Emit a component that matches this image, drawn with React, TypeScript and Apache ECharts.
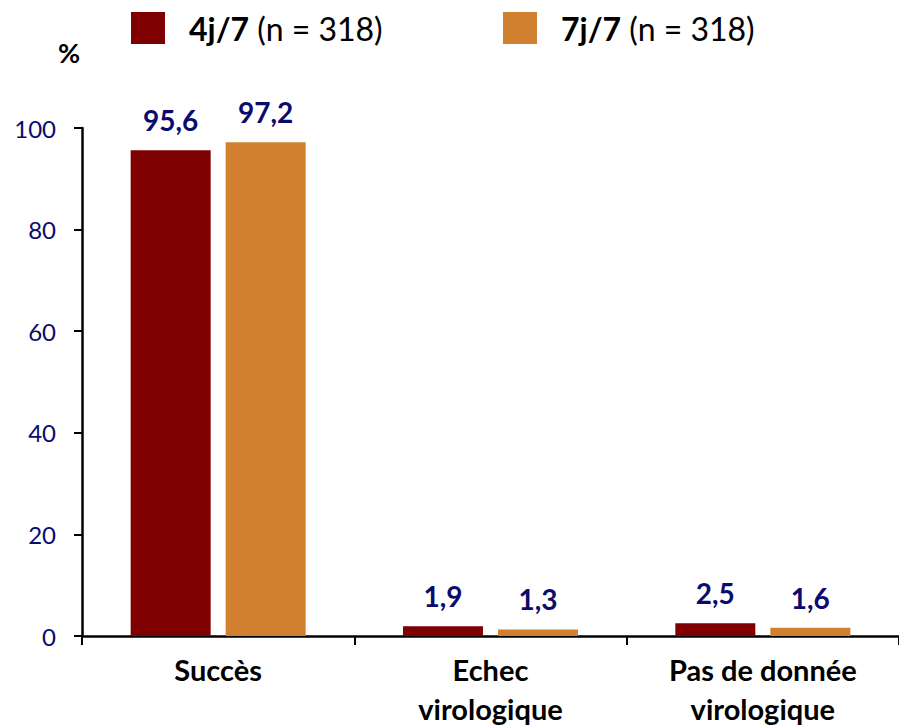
import React, { useEffect, useRef } from "react";
import * as echarts from "echarts";

// Categories and percentages per regimen
const categories = ["Succès", "Echec\nvirologique", "Pas de donnée\nvirologique"];
const seriesNames = ["4j/7", "7j/7"];
const seriesCounts = [318, 318];
const fourDays = [95.6, 1.9, 2.5];
const sevenDays = [97.2, 1.3, 1.6];
const yTicks = { min: 0, max: 100, interval: 20 };

const RED = "#7f0000";
const ORANGE = "#d0802f";
const NAVY = "#0b0b6e";
const FONT = "Lato, 'Open Sans', sans-serif";

const fmt = (v: number) => v.toFixed(1).replace(".", ",");

export default function App() {
  const ref = useRef<HTMLDivElement>(null);

  useEffect(() => {
    if (!ref.current) return;
    const chart = echarts.init(ref.current, undefined, { renderer: "svg" });

    const legendFor = (idx: number, left: number) => ({
      show: true,
      left,
      top: 12,
      padding: 0,
      orient: "horizontal" as const,
      icon: "rect",
      itemWidth: 34,
      itemHeight: 32,
      data: [seriesNames[idx]],
      selectedMode: false,
      formatter: (name: string) => `{b|${name}}{n| (n = ${seriesCounts[idx]})}`,
      textStyle: {
        fontFamily: FONT,
        rich: {
          b: { fontFamily: FONT, fontSize: 32, fontWeight: "bold", color: "#000", padding: [0, 0, 0, 19] },
          n: { fontFamily: FONT, fontSize: 32, color: "#000" },
        },
      },
    });

    const labelStyle = {
      show: true,
      position: "top" as const,
      distance: 16,
      fontFamily: FONT,
      fontSize: 28,
      fontWeight: "bold" as const,
      color: NAVY,
      formatter: (p: any) => fmt(p.value),
    };

    chart.setOption({
      animation: false,
      legend: [legendFor(0, 131), legendFor(1, 503)],
      grid: { left: 82, top: 128, width: 826, height: 512, containLabel: false },
      xAxis: {
        type: "category",
        data: categories,
        axisLine: { show: true, lineStyle: { color: "#000", width: 2.5 } },
        axisTick: { show: true, length: 9, lineStyle: { color: "#000", width: 2 } },
        axisLabel: {
          fontFamily: FONT,
          fontSize: 29,
          fontWeight: "bold",
          color: "#000",
          lineHeight: 39,
          margin: 14,
          verticalAlign: "top",
          interval: 0,
        },
      },
      yAxis: {
        type: "value",
        min: yTicks.min,
        max: yTicks.max,
        interval: yTicks.interval,
        name: "%",
        nameLocation: "end",
        nameGap: 62,
        nameTextStyle: {
          fontFamily: FONT,
          fontSize: 27,
          fontWeight: "bold",
          color: "#000",
          align: "center",
          padding: [0, 26, 0, 0],
        },
        splitLine: { show: false },
        axisLine: { show: true, lineStyle: { color: "#000", width: 2.5 } },
        axisTick: { show: true, length: 8, lineStyle: { color: "#000", width: 2 } },
        axisLabel: { fontFamily: FONT, fontSize: 24, color: NAVY, margin: 26 },
      },
      series: [
        {
          name: seriesNames[0],
          type: "bar",
          data: fourDays,
          barWidth: 80,
          barGap: "18.75%",
          itemStyle: { color: RED },
          label: labelStyle,
        },
        {
          name: seriesNames[1],
          type: "bar",
          data: sevenDays,
          barWidth: 80,
          barGap: "18.75%",
          itemStyle: { color: ORANGE },
          label: labelStyle,
        },
      ],
    });

    return () => chart.dispose();
  }, []);

  return (
    <div
      ref={ref}
      style={{ position: "fixed", left: 0, top: 0, width: 899, height: 728, background: "#fff" }}
    />
  );
}
